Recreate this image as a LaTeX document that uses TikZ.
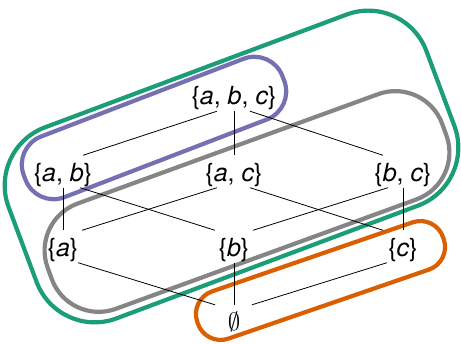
\documentclass[tikz,border=0pt]{standalone}
\usepackage{fontspec}
\setmainfont{TeX Gyre Heros}
\definecolor{dgreen}{HTML}{1B9E77}
\definecolor{dpurple}{HTML}{7570B3}
\definecolor{dorange}{HTML}{D95F02}
\definecolor{dgrey}{HTML}{858585}
\begin{document}
\begin{tikzpicture}[x=1pt,y=1pt,
  setnode/.style={inner xsep=0pt, inner ysep=3pt, text height=23pt, text depth=3pt,
    font=\fontsize{25}{30}\selectfont, anchor=base},
  loopshape/.style={rectangle, draw, line width=4.2pt, inner sep=0pt},
  edge/.style={line width=0.8pt, black}]
\useasboundingbox (0,0) rectangle (461,344);
% loops
\node[loopshape, draw=dgreen, rotate=20.5, minimum width=446pt, minimum height=204pt,
  rounded corners=62pt] (greenloop) at (231.5,177.5) {};
\node[loopshape, draw=dgrey, rotate=20, minimum width=420pt, minimum height=112pt,
  rounded corners=50pt] (greyloop) at (247,142.5) {};
\node[loopshape, draw=dpurple, rotate=21, minimum width=277pt, minimum height=65pt,
  rounded corners=30pt] (purpleloop) at (154,216) {};
\node[loopshape, draw=dorange, rotate=19, minimum width=260pt, minimum height=50pt,
  rounded corners=24pt] (orangeloop) at (320.5,63.5) {};
% nodes
\node[setnode] (abc) at (234,239) {\{\textit{a}, \textit{b}, \textit{c}\}};
\node[setnode] (ab) at (63,162.5) {\{\textit{a}, \textit{b}\}};
\node[setnode] (ac) at (234,162.5) {\{\textit{a}, \textit{c}\}};
\node[setnode] (bc) at (403,162.5) {\{\textit{b}, \textit{c}\}};
\node[setnode] (a) at (63,87.5) {\{\textit{a}\}};
\node[setnode] (b) at (234,87.5) {\{\textit{b}\}};
\node[setnode] (c) at (403,87.5) {\{\textit{c}\}};
\node[setnode] (e) at (234,13) {$\emptyset$};
% connectors
\draw[edge] ([xshift=-17pt]abc.south) -- ([xshift=20pt]ab.north);
\draw[edge] (abc.south) -- (ac.north);
\draw[edge] ([xshift=16pt]abc.south) -- ([xshift=-20pt]bc.north);
\draw[edge] (ab.south) -- (a.north);
\draw[edge] ([xshift=17pt]ab.south) -- ([xshift=-19pt]b.north);
\draw[edge] ([xshift=-17pt]ac.south) -- ([xshift=19pt]a.north);
\draw[edge] ([xshift=16pt]ac.south) -- ([xshift=-20pt]c.north);
\draw[edge] ([xshift=-15pt]bc.south) -- ([xshift=19pt]b.north);
\draw[edge] (bc.south) -- (c.north);
\draw[edge] ([xshift=15pt]a.south) -- ([xshift=-19pt]e.north);
\draw[edge] (b.south) -- (e.north);
\draw[edge] ([xshift=-16pt]c.south) -- ([xshift=18pt]e.north);
\end{tikzpicture}
\end{document}
